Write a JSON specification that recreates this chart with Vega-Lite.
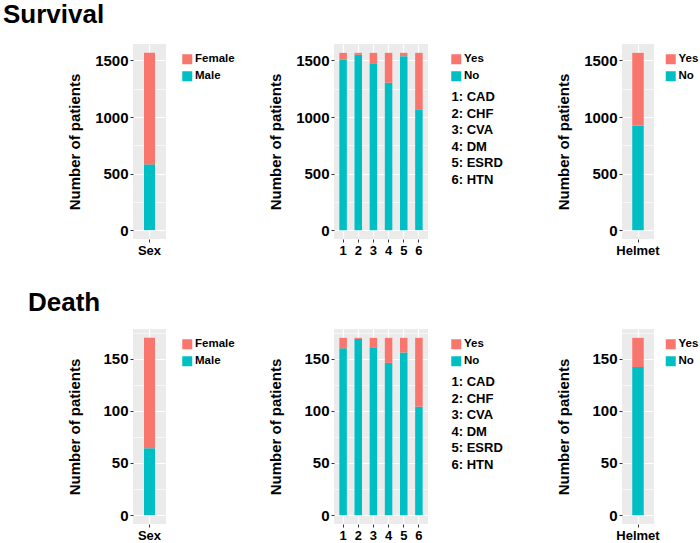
{
  "$schema": "https://vega.github.io/schema/vega-lite/v6.json",
  "padding": {"left": 2, "top": 2, "right": 0, "bottom": 0},
  "datasets": {
    "labels": [
      {"code": "1", "label": "1: CAD"},
      {"code": "2", "label": "2: CHF"},
      {"code": "3", "label": "3: CVA"},
      {"code": "4", "label": "4: DM"},
      {"code": "5", "label": "5: ESRD"},
      {"code": "6", "label": "6: HTN"}
    ]
  },
  "config": {
    "font": "Liberation Sans",
    "view": {"fill": "#EBEBEB", "stroke": null},
    "axis": {
      "labelFont": "Liberation Sans", "labelFontWeight": "bold", "labelColor": "black",
      "titleFont": "Liberation Sans", "titleFontWeight": "bold", "titleColor": "black",
      "domain": false, "tickColor": "#333333", "tickSize": 3, "tickWidth": 1,
      "gridColor": "white", "labelPadding": 2
    },
    "axisY": {"labelFontSize": 15, "titleFontSize": 15, "titlePadding": 12},
    "axisX": {"labelFontSize": 13, "labelAngle": 0, "grid": true, "gridWidth": 1.2},
    "legend": {
      "labelFont": "Liberation Sans", "labelFontSize": 11.5, "labelFontWeight": "bold", "labelColor": "black",
      "symbolType": "square", "symbolSize": 100, "symbolStrokeWidth": 0, "rowPadding": 4, "padding": 0,
      "labelOffset": 2, "orient": "none", "title": null
    },
    "title": {"font": "Liberation Sans", "fontSize": 26, "fontWeight": "bold", "color": "black", "anchor": "start", "offset": 16}
  },
  "resolve": {"scale": {"color": "independent", "shape": "independent", "x": "independent", "y": "independent"}},
  "spacing": 33,
  "vconcat": [
    {
      "title": {"text": "Survival", "dx": -64.7},
      "resolve": {"scale": {"color": "independent", "shape": "independent", "x": "independent", "y": "independent"}},
      "spacing": 52,
      "hconcat": [
        {
          "resolve": {"scale": {"color": "independent", "shape": "independent", "x": "independent", "y": "independent"}},
          "spacing": 32,
          "hconcat": [
            {
              "width": 33, "height": 195,
              "data": {"values": [
                {"var": "Sex", "sex": "Female", "n": 988},
                {"var": "Sex", "sex": "Male", "n": 579}
              ]},
              "mark": {"type": "bar", "size": 11},
              "encoding": {
                "x": {"field": "var", "type": "nominal", "title": null, "scale": {"paddingInner": 0, "paddingOuter": 0}},
                "y": {"field": "n", "type": "quantitative", "stack": "zero", "title": "Number of patients",
                  "scale": {"domain": [-78.35, 1645.35], "nice": false, "zero": false},
                  "axis": {"values": [0, 250, 500, 750, 1000, 1250, 1500], "format": "d",
                    "labelExpr": "datum.value % 500 === 0 ? datum.label : ''",
                    "gridWidth": {"condition": {"test": "datum.value % 500 === 0", "value": 1.2}, "value": 0.6},
                    "tickOpacity": {"condition": {"test": "datum.value % 500 === 0", "value": 1}, "value": 0}}},
                "color": {"field": "sex", "type": "nominal", "scale": {"domain": ["Female", "Male"], "range": ["#F8766D", "#00BFC4"]}, "legend": {"legendX": 48.5, "legendY": 9.5}},
                "order": {"field": "sex", "sort": "descending"}
              }
            },
            {
              "width": 94, "height": 195,
              "layer": [
                {
                  "data": {"values": [
                    {"code": "1", "status": "No", "n": 1506}, {"code": "1", "status": "Yes", "n": 61},
                    {"code": "2", "status": "No", "n": 1550}, {"code": "2", "status": "Yes", "n": 17},
                    {"code": "3", "status": "No", "n": 1476}, {"code": "3", "status": "Yes", "n": 91},
                    {"code": "4", "status": "No", "n": 1303}, {"code": "4", "status": "Yes", "n": 264},
                    {"code": "5", "status": "No", "n": 1538}, {"code": "5", "status": "Yes", "n": 29},
                    {"code": "6", "status": "No", "n": 1068}, {"code": "6", "status": "Yes", "n": 499}
                  ]},
                  "mark": {"type": "bar", "size": 7.5},
                  "encoding": {
                    "x": {"field": "code", "type": "nominal", "title": null, "scale": {"paddingInner": 0, "paddingOuter": 0.1}},
                    "y": {"field": "n", "type": "quantitative", "stack": "zero", "title": "Number of patients",
                      "scale": {"domain": [-78.35, 1645.35], "nice": false, "zero": false},
                      "axis": {"values": [0, 250, 500, 750, 1000, 1250, 1500], "format": "d",
                        "labelExpr": "datum.value % 500 === 0 ? datum.label : ''",
                        "gridWidth": {"condition": {"test": "datum.value % 500 === 0", "value": 1.2}, "value": 0.6},
                        "tickOpacity": {"condition": {"test": "datum.value % 500 === 0", "value": 1}, "value": 0}}},
                    "color": {"field": "status", "type": "nominal", "scale": {"domain": ["Yes", "No"], "range": ["#F8766D", "#00BFC4"]}, "legend": {"legendX": 116.5, "legendY": 9.5}},
                    "order": {"field": "status", "sort": "ascending"}
                  }
                },
                {
                  "data": {"name": "labels"},
                  "mark": {"type": "point", "opacity": 0},
                  "encoding": {
                    "x": {"field": "code", "type": "nominal"},
                    "shape": {"field": "label", "type": "nominal", "legend": {"legendX": 104.5, "legendY": 46.5, "symbolSize": 0, "symbolOpacity": 0, "labelOffset": 0, "labelFontSize": 13, "rowPadding": 2.5}}
                  }
                }
              ]
            }
          ]
        },
        {
          "width": 32, "height": 195,
          "data": {"values": [
            {"var": "Helmet", "status": "No", "n": 926},
            {"var": "Helmet", "status": "Yes", "n": 641}
          ]},
          "mark": {"type": "bar", "size": 11.5},
          "encoding": {
            "x": {"field": "var", "type": "nominal", "title": null, "scale": {"paddingInner": 0, "paddingOuter": 0}},
            "y": {"field": "n", "type": "quantitative", "stack": "zero", "title": "Number of patients",
              "scale": {"domain": [-78.35, 1645.35], "nice": false, "zero": false},
              "axis": {"values": [0, 250, 500, 750, 1000, 1250, 1500], "format": "d",
                "labelExpr": "datum.value % 500 === 0 ? datum.label : ''",
                "gridWidth": {"condition": {"test": "datum.value % 500 === 0", "value": 1.2}, "value": 0.6},
                "tickOpacity": {"condition": {"test": "datum.value % 500 === 0", "value": 1}, "value": 0}}},
            "color": {"field": "status", "type": "nominal", "scale": {"domain": ["Yes", "No"], "range": ["#F8766D", "#00BFC4"]}, "legend": {"legendX": 43, "legendY": 9.5}},
            "order": {"field": "status", "sort": "ascending"}
          }
        }
      ]
    },
    {
      "title": {"text": "Death", "dx": -39.7, "dy": 3},
      "resolve": {"scale": {"color": "independent", "shape": "independent", "x": "independent", "y": "independent"}},
      "spacing": 52,
      "hconcat": [
        {
          "resolve": {"scale": {"color": "independent", "shape": "independent", "x": "independent", "y": "independent"}},
          "spacing": 32,
          "hconcat": [
            {
              "width": 33, "height": 195,
              "data": {"values": [
                {"var": "Sex", "sex": "Female", "n": 106},
                {"var": "Sex", "sex": "Male", "n": 64}
              ]},
              "mark": {"type": "bar", "size": 11},
              "encoding": {
                "x": {"field": "var", "type": "nominal", "title": null, "scale": {"paddingInner": 0, "paddingOuter": 0}},
                "y": {"field": "n", "type": "quantitative", "stack": "zero", "title": "Number of patients",
                  "scale": {"domain": [-8.5, 178.5], "nice": false, "zero": false},
                  "axis": {"values": [0, 25, 50, 75, 100, 125, 150, 175], "format": "d", "titlePadding": 20.3,
                    "labelExpr": "datum.value % 50 === 0 ? datum.label : ''",
                    "gridWidth": {"condition": {"test": "datum.value % 50 === 0", "value": 1.2}, "value": 0.6},
                    "tickOpacity": {"condition": {"test": "datum.value % 50 === 0", "value": 1}, "value": 0}}},
                "color": {"field": "sex", "type": "nominal", "scale": {"domain": ["Female", "Male"], "range": ["#F8766D", "#00BFC4"]}, "legend": {"legendX": 48.5, "legendY": 9.5}},
                "order": {"field": "sex", "sort": "descending"}
              }
            },
            {
              "width": 94, "height": 195,
              "layer": [
                {
                  "data": {"values": [
                    {"code": "1", "status": "No", "n": 160}, {"code": "1", "status": "Yes", "n": 10},
                    {"code": "2", "status": "No", "n": 169}, {"code": "2", "status": "Yes", "n": 1},
                    {"code": "3", "status": "No", "n": 161}, {"code": "3", "status": "Yes", "n": 9},
                    {"code": "4", "status": "No", "n": 146}, {"code": "4", "status": "Yes", "n": 24},
                    {"code": "5", "status": "No", "n": 156}, {"code": "5", "status": "Yes", "n": 14},
                    {"code": "6", "status": "No", "n": 104}, {"code": "6", "status": "Yes", "n": 66}
                  ]},
                  "mark": {"type": "bar", "size": 7.5},
                  "encoding": {
                    "x": {"field": "code", "type": "nominal", "title": null, "scale": {"paddingInner": 0, "paddingOuter": 0.1}},
                    "y": {"field": "n", "type": "quantitative", "stack": "zero", "title": "Number of patients",
                      "scale": {"domain": [-8.5, 178.5], "nice": false, "zero": false},
                      "axis": {"values": [0, 25, 50, 75, 100, 125, 150, 175], "format": "d", "titlePadding": 20.3,
                        "labelExpr": "datum.value % 50 === 0 ? datum.label : ''",
                        "gridWidth": {"condition": {"test": "datum.value % 50 === 0", "value": 1.2}, "value": 0.6},
                        "tickOpacity": {"condition": {"test": "datum.value % 50 === 0", "value": 1}, "value": 0}}},
                    "color": {"field": "status", "type": "nominal", "scale": {"domain": ["Yes", "No"], "range": ["#F8766D", "#00BFC4"]}, "legend": {"legendX": 116.5, "legendY": 9.5}},
                    "order": {"field": "status", "sort": "ascending"}
                  }
                },
                {
                  "data": {"name": "labels"},
                  "mark": {"type": "point", "opacity": 0},
                  "encoding": {
                    "x": {"field": "code", "type": "nominal"},
                    "shape": {"field": "label", "type": "nominal", "legend": {"legendX": 104.5, "legendY": 46.5, "symbolSize": 0, "symbolOpacity": 0, "labelOffset": 0, "labelFontSize": 13, "rowPadding": 2.5}}
                  }
                }
              ]
            }
          ]
        },
        {
          "width": 32, "height": 195,
          "data": {"values": [
            {"var": "Helmet", "status": "No", "n": 142},
            {"var": "Helmet", "status": "Yes", "n": 28}
          ]},
          "mark": {"type": "bar", "size": 11.5},
          "encoding": {
            "x": {"field": "var", "type": "nominal", "title": null, "scale": {"paddingInner": 0, "paddingOuter": 0}},
            "y": {"field": "n", "type": "quantitative", "stack": "zero", "title": "Number of patients",
              "scale": {"domain": [-8.5, 178.5], "nice": false, "zero": false},
              "axis": {"values": [0, 25, 50, 75, 100, 125, 150, 175], "format": "d", "titlePadding": 20.3,
                "labelExpr": "datum.value % 50 === 0 ? datum.label : ''",
                "gridWidth": {"condition": {"test": "datum.value % 50 === 0", "value": 1.2}, "value": 0.6},
                "tickOpacity": {"condition": {"test": "datum.value % 50 === 0", "value": 1}, "value": 0}}},
            "color": {"field": "status", "type": "nominal", "scale": {"domain": ["Yes", "No"], "range": ["#F8766D", "#00BFC4"]}, "legend": {"legendX": 43, "legendY": 9.5}},
            "order": {"field": "status", "sort": "ascending"}
          }
        }
      ]
    }
  ]
}
